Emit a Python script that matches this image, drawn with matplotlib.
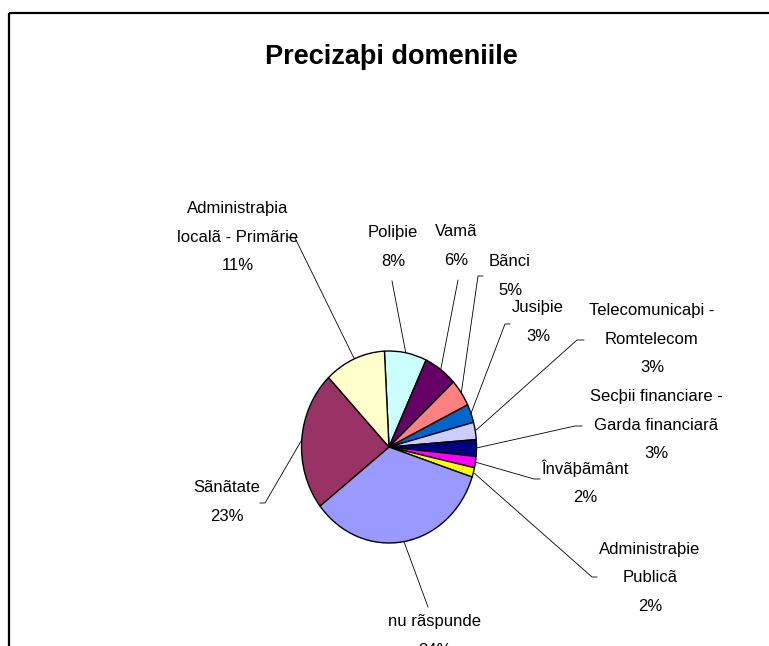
import numpy as np
import matplotlib
matplotlib.use('Agg')
import matplotlib.pyplot as plt
from matplotlib.patches import Rectangle

# data (percent, clockwise from the top)
labels = ['Poliþie', 'Vamã', 'Bãnci', 'Jusiþie', 'Telecomunicaþi -\nRomtelecom',
          'Secþii financiare -\nGarda financiarã', 'Învãþãmânt', 'Administraþie\nPublicã',
          'nu rãspunde', 'Sãnãtate', 'Administraþia\nlocalã - Primãrie']
values = [7.8, 6.2, 4.6, 3.1, 2.9, 2.8, 1.9, 1.6, 34.4, 23.4, 11.3]
colors = ['#CCFFFF', '#660066', '#FF8080', '#0066CC', '#CCCCFF',
          '#000080', '#FF00FF', '#FFFF00', '#9999FF', '#993366', '#FFFFCC']
title = 'Precizaþi domeniile'

# layout: label centres and leader line start points (pixels, top-left origin)
label_pos = [(393, 247), (456, 246), (510, 276), (538, 322), (652, 339),
             (656, 425), (585, 482), (650, 578), (435, 636), (227, 502), (238, 237)]
leader_pts = [[(392, 281)], [(458, 280)], [(483, 276), (478, 276)], [(510, 324), (505, 324)],
              [(584, 340), (577, 340)], [(582, 426), (575, 426)], [(540, 479), (534, 479)],
              [(597, 577), (592, 577)], [(428, 607)], [(260, 503), (265, 503)],
              [(288, 237), (295, 238)]]

plt.rcParams['font.family'] = ['Liberation Sans', 'DejaVu Sans']

W, H = 769, 646
fig = plt.figure(figsize=(W / 100, H / 100), dpi=100)
fig.patch.set_facecolor('white')

# pie (slightly taller than wide, like the original)
cx, cy, rw, rh = 389, 447, 87.5, 96
pie_ax = fig.add_axes([(cx - rw) / W, (H - cy - rh) / H, 2 * rw / W, 2 * rh / H])
wedges, _ = pie_ax.pie(values, colors=colors, startangle=93, counterclock=False,
                       radius=1, wedgeprops=dict(edgecolor='black', linewidth=1.0))
pie_ax.set_aspect('auto')
pie_ax.set_xlim(-1, 1)
pie_ax.set_ylim(-1, 1)
pie_ax.axis('off')

# overlay in pixel coordinates
ov = fig.add_axes([0, 0, 1, 1], zorder=-1)
ov.set_xlim(0, W)
ov.set_ylim(H, 0)
ov.axis('off')

# frame of the chart area
ov.add_patch(Rectangle((9, 13), 900, 900, fill=False, edgecolor='black', linewidth=1.6, clip_on=False))

ov.text(391, 57, title, ha='center', va='center', fontsize=19.5, fontweight='bold')

total = sum(values)
for w, lab, v, pos, pts in zip(wedges, labels, values, label_pos, leader_pts):
    mid = np.deg2rad((w.theta1 + w.theta2) / 2)
    disp = pie_ax.transData.transform((np.cos(mid), np.sin(mid)))
    sx, sy = ov.transData.inverted().transform(disp)
    xs = [p[0] for p in pts] + [sx]
    ys = [p[1] for p in pts] + [sy]
    ov.plot(xs, ys, color='black', linewidth=0.6, zorder=1)
    pct = '%d%%' % round(v / total * 100)
    ov.text(pos[0], pos[1], lab + '\n' + pct, ha='center', va='center',
            fontsize=12, linespacing=2.1)

fig.savefig('out.png', dpi=100)
